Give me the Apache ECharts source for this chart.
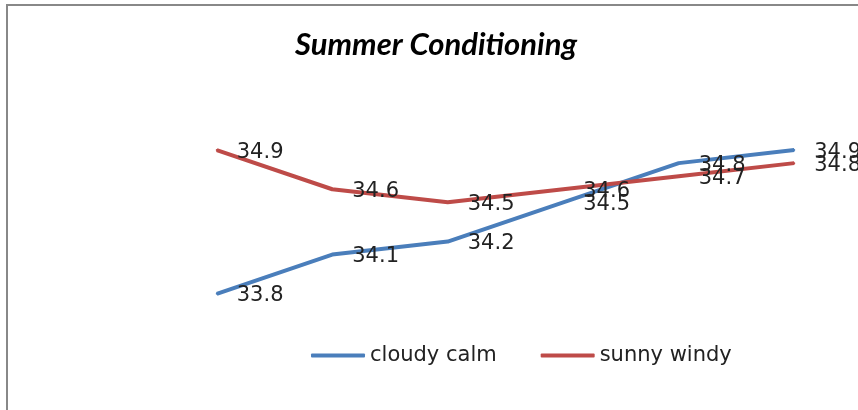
<!DOCTYPE html>
<html style="height: 100%">
<head>
<meta charset="utf-8" />
<title>Summer Conditioning</title>
<script src="https://cdn.jsdelivr.net/npm/echarts@6/dist/echarts.min.js"></script>
</head>
<body style="height: 100%; margin: 0;">
<div id="container" style="width: 858px; height: 410px;"></div>
<script>
var categories = ['1', '2', '3', '4', '5', '6'];
var cloudyCalm = [33.8, 34.1, 34.2, 34.5, 34.8, 34.9];
var sunnyWindy = [34.9, 34.6, 34.5, 34.6, 34.7, 34.8];

var myChart = echarts.init(document.getElementById('container'));

var labelStyle = {
    show: true,
    position: 'right',
    distance: 19,
    offset: [0, 2],
    color: '#222',
    fontFamily: 'DejaVu Sans',
    fontSize: 21
};

var option = {
    backgroundColor: '#fff',
    animation: false,
    title: {
        text: 'Summer Conditioning',
        left: 295,
        top: 29,
        padding: 0,
        textStyle: {
            fontFamily: 'Lato',
            fontStyle: 'italic',
            fontWeight: 'bold',
            fontSize: 31,
            color: '#000'
        }
    },
    graphic: [{
        type: 'rect',
        shape: { x: 7, y: 5, width: 900, height: 500 },
        style: { fill: 'none', stroke: '#888', lineWidth: 2 }
    }],
    legend: {
        left: 311,
        top: 345,
        padding: 0,
        itemWidth: 54,
        itemHeight: 4,
        itemGap: 44,
        icon: 'roundRect',
        textStyle: { fontFamily: 'DejaVu Sans', fontSize: 21, color: '#222', padding: [0, 0, 0, 0] },
        data: ['cloudy calm', 'sunny windy']
    },
    grid: { left: 159, right: 6, top: 137, height: 196 },
    xAxis: {
        type: 'category',
        data: categories,
        boundaryGap: true,
        show: false
    },
    yAxis: {
        type: 'value',
        min: 33.5,
        max: 35,
        show: false
    },
    series: [{
        name: 'cloudy calm',
        type: 'line',
        data: cloudyCalm,
        color: '#4a7ebb',
        symbol: 'circle',
        symbolSize: 2,
        lineStyle: { width: 4, color: '#4a7ebb' },
        label: labelStyle
    }, {
        name: 'sunny windy',
        type: 'line',
        data: sunnyWindy,
        color: '#be4b48',
        symbol: 'circle',
        symbolSize: 2,
        lineStyle: { width: 4, color: '#be4b48' },
        label: labelStyle
    }]
};
myChart.setOption(option);
</script>
</body>
</html>
